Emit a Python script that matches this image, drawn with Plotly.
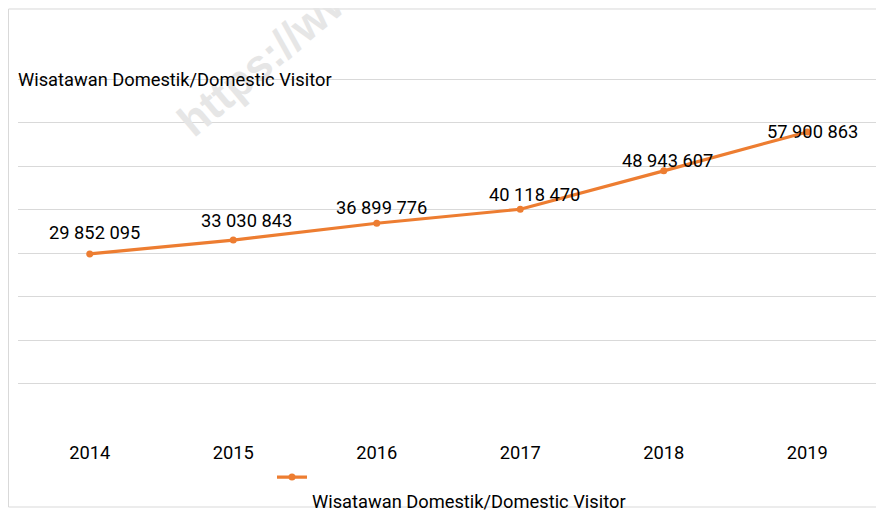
import plotly.graph_objects as go

years = ["2014", "2015", "2016", "2017", "2018", "2019"]
visitors = [29852095, 33030843, 36899776, 40118470, 48943607, 57900863]
series_name = "Wisatawan Domestik/Domestic Visitor"
title_text = "Wisatawan Domestik/Domestic Visitor"
watermark = "https://www.bps.go.id"

# label offsets (pixels) to mimic the original label placement
label_dx = [5, 13, 5, 14, 4, 5]
label_dy = [21, 20, 16, 15, 10, 0]

FONT = "Liberation Sans Narrow, Roboto, sans-serif"
FS = 18.3
ORANGE = "#ED7D31"

def fmt(v):
    return f"{v:,}".replace(",", " ")

fig = go.Figure()
fig.add_trace(go.Scatter(
    x=years, y=visitors, mode="lines+markers", name="<br>" + series_name,
    line=dict(color=ORANGE, width=3.2),
    marker=dict(color=ORANGE, size=7),
    showlegend=True,
))

# faint watermark (behind the other texts)
fig.add_annotation(xref="paper", yref="paper", x=0.395, y=1.316,
                   xanchor="center", yanchor="middle", text="<b>" + watermark + "</b>",
                   textangle=-40, showarrow=False,
                   font=dict(family="Liberation Sans, Arial, sans-serif", size=44, color="#E6E6E6"))

for i, (v, dx, dy) in enumerate(zip(visitors, label_dx, label_dy)):
    fig.add_annotation(x=i, y=v, text=fmt(v), showarrow=False,
                       xshift=dx, yshift=dy,
                       font=dict(family=FONT, size=FS, color="#000000"))

fig.add_annotation(xref="paper", yref="paper", x=-0.002, y=0.9935,
                   xanchor="left", yanchor="middle", text=title_text,
                   showarrow=False, font=dict(family=FONT, size=FS, color="#000000"))

# outer border
fig.add_shape(type="rect", xref="paper", yref="paper",
              x0=-0.011, x1=1.0012, y0=-0.3974, y1=1.2248,
              line=dict(color="#D9D9D9", width=1), layer="above")

fig.update_layout(
    width=884, height=513,
    margin=dict(l=10, r=13, t=70, b=136, autoexpand=False),
    paper_bgcolor="white", plot_bgcolor="white",
    font=dict(family=FONT, size=FS, color="#000000"),
    showlegend=True,
    legend=dict(orientation="h", x=0.295, y=-0.24, xanchor="left", yanchor="top",
                valign="top", font=dict(family=FONT, size=FS, color="#000000"),
                bgcolor="rgba(0,0,0,0)", itemwidth=30),
    xaxis=dict(type="category", range=[-0.5, 5.5], showgrid=False, zeroline=False,
               showline=False, ticks="", ticklabelstandoff=55,
               tickfont=dict(family=FONT, size=FS, color="#000000")),
    yaxis=dict(range=[-300000, 70300000], dtick=10000000, tick0=0, showticklabels=False,
               showgrid=True, gridcolor="#D9D9D9", gridwidth=1, zeroline=False,
               showline=False, ticks=""),
)

fig.write_html("out.html")
